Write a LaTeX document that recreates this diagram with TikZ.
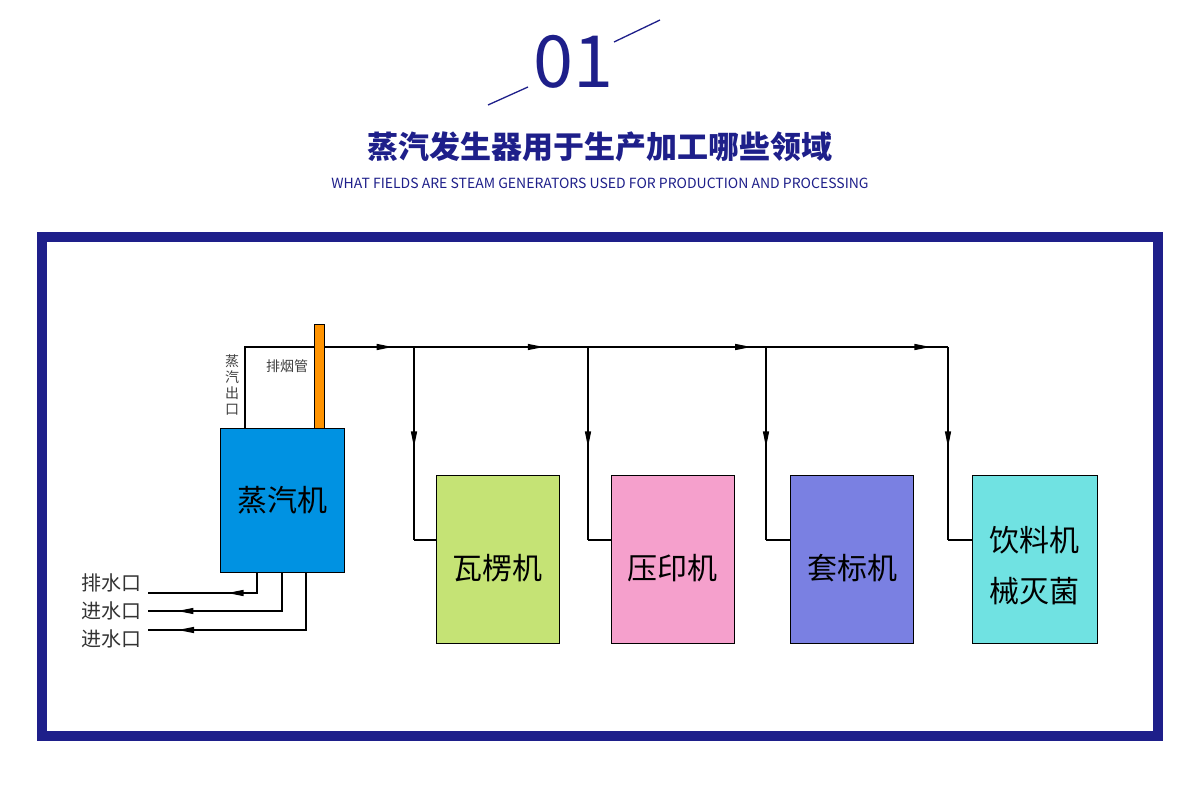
\documentclass[tikz,border=0pt]{standalone}
\usepackage{fontspec}
\setmainfont{Noto Sans CJK SC}
\newfontfamily\cjkb[BoldFont={* Bold}]{Noto Sans CJK SC}
\usetikzlibrary{arrows.meta,decorations.markings}
\definecolor{navy}{HTML}{1E1F8A}
\tikzset{
  pipe/.style={line width=1.3pt,black},
  midarr/.style={decoration={markings,mark=at position #1 with {\arrow{Triangle[length=16pt,width=6pt]}}},postaction={decorate}},
  mbox/.style={draw=black,line width=1.2pt,minimum width=123pt,minimum height=168pt,anchor=north west,inner sep=0pt},
  boxtxt/.style={font=\fontsize{30}{36}\selectfont,align=center},
  small/.style={font=\fontsize{14}{15}\selectfont,text=black!75}
}
\begin{document}
\begin{tikzpicture}[x=1pt,y=-1pt]
\useasboundingbox (0,0) rectangle (1200,794);
\fill[white] (0,0) rectangle (1200,794);
% header
\node (num) at (573,62) {\fontsize{72}{72}\selectfont\color{navy}01};
\coordinate (l1a) at (488,105); \coordinate (l1b) at (528,87);
\coordinate (l2a) at (614,42); \coordinate (l2b) at (660,20);
\draw[navy,line width=1.3pt] (l1a)--(l1b) (l2a)--(l2b);
\node (title) at (600,147) {\fontsize{31}{31}\selectfont\bfseries\color{navy}蒸汽发生器用于生产加工哪些领域};
\node (sub) at (600,183) {\fontsize{14}{14}\selectfont\color{navy}WHAT FIELDS ARE STEAM GENERATORS USED FOR PRODUCTION AND PROCESSING};
% frame
\draw[navy,line width=10pt] (42,237) rectangle (1158,736);
% boiler
\coordinate (so) at (245,428);
\coordinate (st) at (245,347);
\coordinate (se) at (948,347);
\draw[pipe] (so)--(st)--(se);
\draw[pipe,midarr=0.21] (st)--(se);
\draw[pipe,midarr=0.425] (st)--(se);
\draw[pipe,midarr=0.72] (st)--(se);
\draw[pipe,midarr=0.975] (st)--(se);
\fill[orange!85!yellow,draw=black,line width=0.8pt] (314,324) rectangle (324,428);
\node[draw=black,line width=1.2pt,fill={rgb,255:red,0;green,146;blue,226},minimum width=124pt,minimum height=144pt,anchor=north west,inner sep=0pt] (boiler) at (220,428) {};
\node[boxtxt] (btxt) at (282,500) {蒸汽机};
\node[small,align=center,font=\fontsize{14}{16}\selectfont] (so_l) at (232,385) {蒸\\汽\\出\\口};
\node[small] (smoke) at (287,366) {排烟管};
% boxes
\node[mbox,fill={rgb,255:red,197;green,227;blue,117}] (b1) at (436,475) {};
\node[mbox,fill={rgb,255:red,245;green,160;blue,204}] (b2) at (611,475) {};
\node[mbox,fill={rgb,255:red,122;green,128;blue,226}] (b3) at (790,475) {};
\node[mbox,fill={rgb,255:red,112;green,226;blue,226},minimum width=125pt] (b4) at (972,475) {};
\node[boxtxt] at (497,568) {瓦楞机};
\node[boxtxt] at (672,568) {压印机};
\node[boxtxt] at (852,568) {套标机};
\node[boxtxt,font=\fontsize{30}{51}\selectfont] at (1034,566) {饮料机\\械灭菌};
% branches
\foreach \x/\b in {414/b1,588/b2,766/b3,948/b4}{
  \coordinate (t\b) at (\x,347);
  \coordinate (c\b) at (\x,540);
  \draw[pipe,midarr=0.52] (t\b)--(c\b);
  \draw[pipe] (c\b)--(c\b -| \b.west);
}
% water pipes
\coordinate (w1a) at (257,572); \coordinate (w1b) at (257,593); \coordinate (w1c) at (148,593);
\coordinate (w2a) at (282,572); \coordinate (w2b) at (282,611); \coordinate (w2c) at (148,611);
\coordinate (w3a) at (306,572); \coordinate (w3b) at (306,630); \coordinate (w3c) at (148,630);
\draw[pipe] (w1a)--(w1b)--(w1c);
\draw[pipe,midarr=0.27] (w1b)--(w1c);
\draw[pipe] (w2a)--(w2b)--(w2c);
\draw[pipe,midarr=0.78] (w2b)--(w2c);
\draw[pipe] (w3a)--(w3b)--(w3c);
\draw[pipe,midarr=0.81] (w3b)--(w3c);
\node[font=\fontsize{20}{20}\selectfont,text=black!80] (d1) at (111,583) {排水口};
\node[font=\fontsize{20}{20}\selectfont,text=black!80] (d2) at (111,611) {进水口};
\node[font=\fontsize{20}{20}\selectfont,text=black!80] (d3) at (111,639) {进水口};
\end{tikzpicture}
\end{document}
